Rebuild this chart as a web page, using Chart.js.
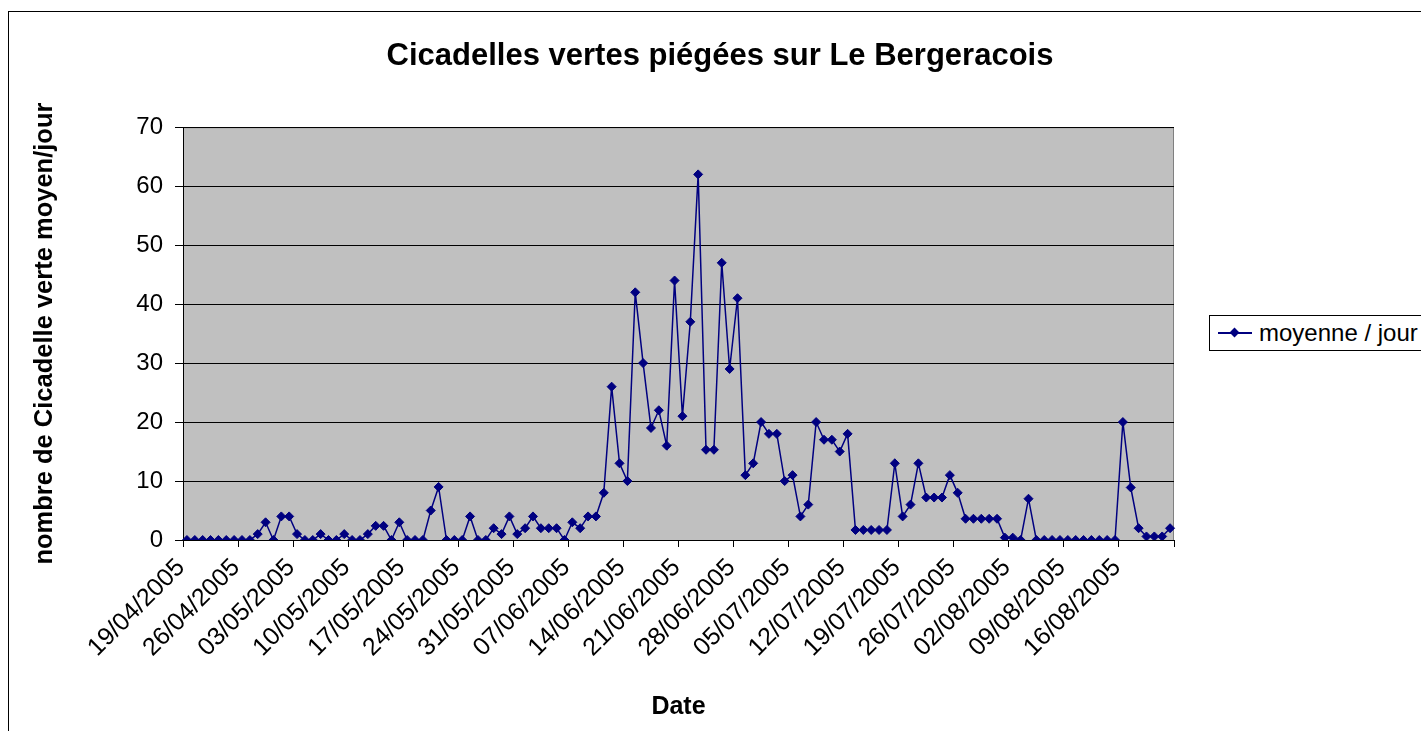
<!DOCTYPE html>
<html>
<head>
<meta charset="utf-8">
<title>Cicadelles vertes piégées sur Le Bergeracois</title>
<script src="https://cdn.jsdelivr.net/npm/chart.js@4.4.1/dist/chart.umd.min.js"></script>
<style>
  html, body { margin: 0; padding: 0; background: #fff; overflow: hidden; }
  #wrap { position: absolute; left: 0; top: 0; width: 1421px; height: 731px; }
  #frame { position: absolute; left: 8px; top: 11px; width: 1500px; height: 1000px; border: 1px solid #000; }
  #legend {
    position: absolute; left: 1209px; top: 315px; width: 240px; height: 34px;
    border: 1px solid #000; background: #fff;
    font: 24px Arial, "Liberation Sans", sans-serif; color: #000;
    display: flex; align-items: center;
  }
  #legend .sw { position: relative; width: 34px; height: 2px; background: #000080; margin-left: 8px; margin-right: 7px; }
  #legend .sw i { position: absolute; left: 13px; top: -3px; width: 7px; height: 7px; background: #000080; transform: rotate(45deg); }
</style>
</head>
<body>
<div id="frame"></div>
<div id="wrap"><canvas id="chart"></canvas></div>
<div id="legend"><span class="sw"><i></i></span><span>moyenne / jour</span></div>
<script>
// one reading per day, starting 19/04/2005
const startDate = new Date(2005, 3, 19);

const tickLabels = [
  '19/04/2005', '26/04/2005', '03/05/2005', '10/05/2005', '17/05/2005', '24/05/2005',
  '31/05/2005', '07/06/2005', '14/06/2005', '21/06/2005', '28/06/2005', '05/07/2005',
  '12/07/2005', '19/07/2005', '26/07/2005', '02/08/2005', '09/08/2005', '16/08/2005'
];

// moyenne / jour
const moyenneJour = [
  0, 0, 0, 0, 0, 0, 0, 0, 0, 1,
  3, 0, 4, 4, 1, 0, 0, 1, 0, 0,
  1, 0, 0, 1, 2.4, 2.4, 0, 3, 0, 0,
  0, 5, 9, 0, 0, 0, 4, 0, 0, 2,
  1, 4, 1, 2, 4, 2, 2, 2, 0, 3,
  2, 4, 4, 8, 26, 13, 10, 42, 30, 19,
  22, 16, 44, 21, 37, 62, 15.3, 15.3, 47, 29,
  41, 11, 13, 20, 18, 18, 10, 11, 4, 6,
  20, 17, 17, 15, 18, 1.7, 1.7, 1.7, 1.7, 1.7,
  13, 4, 6, 13, 7.2, 7.2, 7.2, 11, 8, 3.6,
  3.6, 3.6, 3.6, 3.6, 0.4, 0.4, 0, 7, 0, 0,
  0, 0, 0, 0, 0, 0, 0, 0, 0, 20,
  8.9, 2, 0.6, 0.6, 0.6, 2
];

const pad = n => String(n).padStart(2, '0');
const days = moyenneJour.map((_, i) => {
  const d = new Date(startDate.getFullYear(), startDate.getMonth(), startDate.getDate() + i);
  return pad(d.getDate()) + '/' + pad(d.getMonth() + 1) + '/' + d.getFullYear();
});

const FONT = 'Arial, "Liberation Sans", sans-serif';

// grey plot background with its frame
const plotBackground = {
  id: 'plotBackground',
  beforeDraw(chart) {
    const { ctx, chartArea: a } = chart;
    ctx.save();
    ctx.fillStyle = '#C0C0C0';
    ctx.fillRect(a.left, a.top, a.right - a.left, a.bottom - a.top);
    ctx.strokeStyle = '#808080';
    ctx.lineWidth = 1;
    ctx.strokeRect(a.left + 0.5, a.top + 0.5, a.right - a.left - 1, a.bottom - a.top);
    ctx.restore();
  }
};

new Chart(document.getElementById('chart'), {
  type: 'line',
  data: {
    labels: days,
    datasets: [{
      label: 'moyenne / jour',
      data: moyenneJour,
      borderColor: '#000080',
      backgroundColor: '#000080',
      borderWidth: 1.5,
      pointStyle: 'rectRot',
      pointRadius: 4.5,
      pointBorderWidth: 1,
      tension: 0,
      fill: false
    }]
  },
  options: {
    responsive: true,
    maintainAspectRatio: false,
    animation: false,
    layout: { padding: { left: 26, right: 7, top: 0, bottom: 7 } },
    plugins: {
      legend: { display: false },
      tooltip: { enabled: false },
      title: {
        display: true,
        text: 'Cicadelles vertes piégées sur Le Bergeracois',
        color: '#000',
        font: { family: FONT, size: 31, weight: 'bold' },
        padding: { top: 38, bottom: 52 }
      }
    },
    scales: {
      x: {
        type: 'category',
        offset: true,
        border: { color: '#000', width: 1 },
        grid: {
          offset: true,
          drawOnChartArea: false,
          drawTicks: true,
          tickLength: 7,
          color: ctx => (ctx.type === 'tick' && ctx.index % 7 !== 0) ? 'rgba(0,0,0,0)' : '#000'
        },
        ticks: {
          autoSkip: false,
          minRotation: 45,
          maxRotation: 45,
          padding: 6,
          labelOffset: -6,
          color: '#000',
          font: { family: FONT, size: 25 },
          callback: (val, i) => (i % 7 === 0 ? tickLabels[i / 7] : '')
        },
        title: {
          display: true,
          text: 'Date',
          color: '#000',
          font: { family: FONT, size: 25, weight: 'bold' },
          padding: { top: 4, bottom: 2 }
        },
        afterFit: scale => { scale.height = 184; }
      },
      y: {
        min: 0,
        max: 70,
        border: { color: '#000', width: 1 },
        grid: { color: '#000', lineWidth: 1, drawTicks: true, tickLength: 8 },
        ticks: {
          stepSize: 10,
          padding: 12,
          color: '#000',
          font: { family: FONT, size: 24 }
        },
        title: {
          display: true,
          text: 'nombre de Cicadelle verte moyen/jour',
          color: '#000',
          font: { family: FONT, size: 25.5, weight: 'bold' },
          padding: { top: 4, bottom: 4 }
        },
        afterFit: scale => { scale.width = 157; }
      },
      // empty right-hand axis: keeps room for the legend box
      legendSpace: {
        type: 'linear',
        position: 'right',
        display: true,
        grid: { display: false },
        border: { display: false },
        ticks: { display: false },
        afterFit: scale => { scale.width = 240; }
      }
    }
  },
  plugins: [plotBackground]
});
</script>
</body>
</html>
